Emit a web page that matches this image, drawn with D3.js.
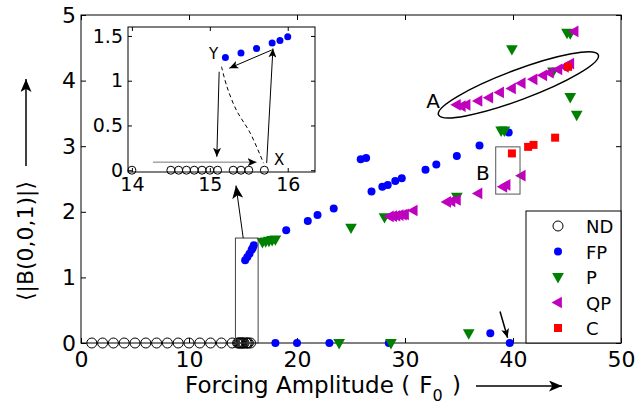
<!DOCTYPE html>
<html>
<head>
<meta charset="utf-8">
<script src="https://cdn.jsdelivr.net/npm/d3@7"></script>
<style>
  body { margin: 0; background: #fff; }
  svg { display: block; font-family: "DejaVu Sans", sans-serif; }
</style>
</head>
<body>
<svg id="chart"></svg>
<script>
// ---- data ----
const xTicks = [0, 10, 20, 30, 40, 50];
const yTicks = [0, 1, 2, 3, 4, 5];
const insetXTicks = [14, 15, 16];
const insetYTicks = [0, 0.5, 1, 1.5];

// no dynamics (all at zero)
const ndX = [1, 2, 3, 4, 5, 6, 7, 8, 9, 10, 11, 12, 13, 14,
             14.5, 14.6, 14.7, 14.8, 14.9, 15.0, 15.1, 15.3, 15.4, 15.5, 15.7];
// fixed point
const fpData = [
  [15.2, 1.26], [15.4, 1.31], [15.6, 1.36], [15.8, 1.42], [15.9, 1.45], [16.0, 1.49],
  [18, 0], [20, 0], [23, 0], [28.5, 0], [37.9, 0.15], [39.7, 0],
  [19, 1.72], [21, 1.86], [21.9, 1.95], [23.4, 2.05], [25.9, 2.80], [26.4, 2.82],
  [26.9, 2.31], [27.9, 2.38], [28.4, 2.41], [29.1, 2.47], [29.7, 2.51], [31.9, 2.64],
  [32.9, 2.72], [34.8, 2.85], [36.9, 3.01], [39.6, 3.21]
];
// periodic
const pData = [
  [16.8, 1.54], [17.1, 1.55], [17.4, 1.56], [17.7, 1.57], [18.0, 1.58],
  [23.9, 0], [25.0, 1.76], [28.1, 1.92], [28.7, 0], [34.8, 2.23], [35.9, 0.15],
  [38.9, 3.24], [39.2, 3.24], [39.9, 4.48], [43.7, 4.14], [45.0, 4.73], [45.3, 4.72],
  [45.3, 3.75], [45.9, 3.48]
];
// quasi periodic
const qpData = [
  [28.6, 1.93], [28.9, 1.935], [29.2, 1.94], [29.5, 1.95], [29.8, 1.955], [30.0, 1.96],
  [30.8, 2.02], [33.9, 2.15], [34.3, 2.16], [34.8, 2.18], [36.8, 2.28],
  [39.1, 2.38], [39.4, 2.41], [40.8, 2.55],
  [34.8, 3.63], [35.25, 3.61], [35.7, 3.63], [36.8, 3.69], [37.8, 3.74], [38.8, 3.82],
  [39.9, 3.88], [40.8, 3.96], [41.9, 4.02], [42.8, 4.08], [43.4, 4.12], [44.2, 4.17],
  [44.8, 4.21], [45.3, 4.26], [45.7, 4.75]
];
// chaotic
const cData = [[39.9, 2.89], [41.4, 2.99], [41.9, 3.02], [43.9, 3.13], [45.1, 4.21]];

// inset (zoom on the jump near F0 = 15)
const insetNdX = [14.0, 14.5, 14.6, 14.7, 14.8, 14.9, 15.0, 15.1, 15.3, 15.4, 15.5, 15.7];
const insetFp = [[15.2, 1.26], [15.4, 1.31], [15.6, 1.36], [15.8, 1.42], [15.9, 1.45], [16.0, 1.49]];
const insetDashed = [[15.15, 1.157], [15.22, 0.933], [15.34, 0.673], [15.52, 0.413], [15.69, 0.078]];

const legendItems = ["ND", "FP", "P", "QP", "C"];

// ---- layout ----
const W = 636, H = 412;
const plotL = 81, plotR = 621, plotT = 15, plotB = 343;
const inL = 128, inR = 315, inT = 27, inB = 172;

const svg = d3.select("#chart").attr("width", W).attr("height", H);

const defs = svg.append("defs");
function arrowHead(id, len, wid, color) {
  defs.append("marker")
    .attr("id", id)
    .attr("markerUnits", "userSpaceOnUse")
    .attr("viewBox", `0 ${-wid / 2} ${len} ${wid}`)
    .attr("refX", len).attr("refY", 0)
    .attr("markerWidth", len).attr("markerHeight", wid)
    .attr("orient", "auto")
    .append("path")
    .attr("d", `M0,${-wid / 2}L${len},0L0,${wid / 2}L${len * 0.25},0Z`)
    .attr("fill", color);
}
arrowHead("bigHead", 13, 11, "#000");
arrowHead("smallHead", 9, 8, "#000");

const x = d3.scaleLinear().domain([0, 50]).range([plotL, plotR]);
const y = d3.scaleLinear().domain([0, 5]).range([plotB, plotT]);
const fmt = d3.format("~g");

// symbols
const triDown = r => `M0,${r}L${-r * 0.9},${-r * 0.6}L${r * 0.9},${-r * 0.6}Z`;
const triLeft = r => `M${-r},0L${r * 0.6},${-r * 0.9}L${r * 0.6},${r * 0.9}Z`;

// ---- main axes ----
const g = svg.append("g");
g.append("rect").attr("x", plotL).attr("y", plotT)
  .attr("width", plotR - plotL).attr("height", plotB - plotT)
  .attr("fill", "none").attr("stroke", "#000");

function styleAxis(sel, fs) {
  sel.select(".domain").remove();
  sel.selectAll("line").attr("stroke", "#000");
  sel.selectAll("text").attr("fill", "#000").style("font-size", fs + "px")
    .style("font-family", "DejaVu Sans");
}

g.append("g").attr("transform", `translate(0,${plotB})`)
  .call(d3.axisBottom(x).tickValues(xTicks).tickFormat(fmt).tickSizeInner(-5).tickSizeOuter(0).tickPadding(8))
  .call(s => styleAxis(s, 22));
g.append("g").attr("transform", `translate(${plotL},0)`)
  .call(d3.axisLeft(y).tickValues(yTicks).tickFormat(fmt).tickSizeInner(-5).tickSizeOuter(0).tickPadding(5))
  .call(s => styleAxis(s, 22));
g.append("g").attr("transform", `translate(0,${plotT})`)
  .call(d3.axisTop(x).tickValues(xTicks).tickSizeInner(-5).tickSizeOuter(0).tickFormat(""))
  .call(s => styleAxis(s, 22));
g.append("g").attr("transform", `translate(${plotR},0)`)
  .call(d3.axisRight(y).tickValues(yTicks).tickSizeInner(-5).tickSizeOuter(0).tickFormat(""))
  .call(s => styleAxis(s, 22));

// ---- main markers ----
g.selectAll(".nd").data(ndX).enter().append("circle")
  .attr("cx", d => x(d)).attr("cy", y(0)).attr("r", 5)
  .attr("fill", "none").attr("stroke", "#000").attr("stroke-width", 1);

g.selectAll(".fp").data(fpData).enter().append("circle")
  .attr("cx", d => x(d[0])).attr("cy", d => y(d[1])).attr("r", 4)
  .attr("fill", "#0000ff");

g.selectAll(".p").data(pData).enter().append("path")
  .attr("transform", d => `translate(${x(d[0])},${y(d[1])})`)
  .attr("d", triDown(6.5)).attr("fill", "#008000");

g.selectAll(".qp").data(qpData).enter().append("path")
  .attr("transform", d => `translate(${x(d[0])},${y(d[1])})`)
  .attr("d", triLeft(6.5)).attr("fill", "#bf00bf");

g.selectAll(".c").data(cData).enter().append("rect")
  .attr("x", d => x(d[0]) - 4).attr("y", d => y(d[1]) - 4)
  .attr("width", 8).attr("height", 8).attr("fill", "#ff0000");

// ---- annotations in main ----
// rectangle around the jump
g.append("rect")
  .attr("x", x(14.3)).attr("y", y(1.6))
  .attr("width", x(16.4) - x(14.3)).attr("height", y(0) - y(1.6))
  .attr("fill", "none").attr("stroke", "#444").attr("stroke-width", 1);
g.append("line")
  .attr("x1", x(15.02)).attr("y1", y(1.6)).attr("x2", x(14.35)).attr("y2", y(2.40))
  .attr("stroke", "#000").attr("stroke-width", 1).attr("marker-end", "url(#bigHead)");

// box B
g.append("rect")
  .attr("x", x(38.4)).attr("y", y(2.99))
  .attr("width", x(40.65) - x(38.4)).attr("height", y(2.27) - y(2.99))
  .attr("fill", "none").attr("stroke", "#555").attr("stroke-width", 1);
g.append("text").attr("x", x(37.2)).attr("y", y(2.6) + 8)
  .attr("text-anchor", "middle").style("font-size", "20px").text("B");

// ellipse A
const e1 = [x(33.1), y(3.48)], e2 = [x(47.9), y(4.39)];
const ecx = (e1[0] + e2[0]) / 2, ecy = (e1[1] + e2[1]) / 2;
const erx = Math.hypot(e2[0] - e1[0], e2[1] - e1[1]) / 2;
const eang = Math.atan2(e2[1] - e1[1], e2[0] - e1[0]) * 180 / Math.PI;
g.append("ellipse")
  .attr("transform", `translate(${ecx},${ecy}) rotate(${eang})`)
  .attr("rx", erx).attr("ry", 15)
  .attr("fill", "none").attr("stroke", "#000").attr("stroke-width", 1.5);
g.append("text").attr("x", x(32.6)).attr("y", y(3.71) + 8)
  .attr("text-anchor", "middle").style("font-size", "20px").text("A");

// arrow near F0 = 40
g.append("line")
  .attr("x1", x(38.8)).attr("y1", y(0.48)).attr("x2", x(39.5)).attr("y2", y(0.08))
  .attr("stroke", "#000").attr("stroke-width", 1.5).attr("marker-end", "url(#smallHead)");

// ---- legend ----
const lg = svg.append("g");
lg.append("rect").attr("x", 526).attr("y", 211).attr("width", plotR - 526).attr("height", plotB - 211)
  .attr("fill", "#fff").attr("stroke", "#000");
legendItems.forEach((name, i) => {
  const row = lg.append("g").attr("transform", `translate(558,${226 + i * 25.5})`);
  if (name === "ND") row.append("circle").attr("r", 5).attr("fill", "none").attr("stroke", "#000");
  if (name === "FP") row.append("circle").attr("r", 4).attr("fill", "#0000ff");
  if (name === "P") row.append("path").attr("d", triDown(6.5)).attr("fill", "#008000");
  if (name === "QP") row.append("path").attr("d", triLeft(6.5)).attr("fill", "#bf00bf");
  if (name === "C") row.append("rect").attr("x", -4).attr("y", -4).attr("width", 8).attr("height", 8).attr("fill", "#ff0000");
  row.append("text").attr("x", 28).attr("y", 7).style("font-size", "18px").text(name);
});

// ---- axis labels ----
const xl = svg.append("text").attr("x", 185).attr("y", 393).style("font-size", "23px");
xl.append("tspan").text("Forcing Amplitude (\u2009\u2009F");
xl.append("tspan").attr("dy", 8).style("font-size", "16px").text("0");
xl.append("tspan").attr("dy", -8).text("\u2009\u2009)");
svg.append("line").attr("x1", 476).attr("y1", 386).attr("x2", 562).attr("y2", 386)
  .attr("stroke", "#000").attr("stroke-width", 1.5).attr("marker-end", "url(#bigHead)");

svg.append("text")
  .attr("transform", "translate(33,241) rotate(-90)")
  .attr("text-anchor", "middle").style("font-size", "22px")
  .text("\u27E8|B(0,0,1)|\u27E9");
svg.append("line").attr("x1", 26).attr("y1", 166).attr("x2", 26).attr("y2", 79)
  .attr("stroke", "#000").attr("stroke-width", 1.5).attr("marker-end", "url(#bigHead)");

// ---- inset ----
const ix = d3.scaleLinear().domain([13.95, 16.35]).range([inL, inR]);
const iy = d3.scaleLinear().domain([-0.02, 1.6]).range([inB, inT]);
const ins = svg.append("g");
ins.append("rect").attr("x", inL).attr("y", inT).attr("width", inR - inL).attr("height", inB - inT)
  .attr("fill", "#fff").attr("stroke", "#000");

ins.append("g").attr("transform", `translate(0,${inB})`)
  .call(d3.axisBottom(ix).tickValues(insetXTicks).tickFormat(fmt).tickSizeInner(-4).tickSizeOuter(0).tickPadding(6))
  .call(s => styleAxis(s, 19));
ins.append("g").attr("transform", `translate(${inL},0)`)
  .call(d3.axisLeft(iy).tickValues(insetYTicks).tickFormat(fmt).tickSizeInner(-4).tickSizeOuter(0).tickPadding(5))
  .call(s => styleAxis(s, 19));
ins.append("g").attr("transform", `translate(0,${inT})`)
  .call(d3.axisTop(ix).tickValues(insetXTicks).tickSizeInner(-4).tickSizeOuter(0).tickFormat(""))
  .call(s => styleAxis(s, 19));
ins.append("g").attr("transform", `translate(${inR},0)`)
  .call(d3.axisRight(iy).tickValues(insetYTicks).tickSizeInner(-4).tickSizeOuter(0).tickFormat(""))
  .call(s => styleAxis(s, 19));

ins.selectAll(".ind").data(insetNdX).enter().append("circle")
  .attr("cx", d => ix(d)).attr("cy", iy(0)).attr("r", 4)
  .attr("fill", "none").attr("stroke", "#000");
ins.selectAll(".ifp").data(insetFp).enter().append("circle")
  .attr("cx", d => ix(d[0])).attr("cy", d => iy(d[1])).attr("r", 3.5)
  .attr("fill", "#0000ff");

function insetArrow(a, b, color) {
  ins.append("line")
    .attr("x1", ix(a[0])).attr("y1", iy(a[1])).attr("x2", ix(b[0])).attr("y2", iy(b[1]))
    .attr("stroke", color).attr("stroke-width", 1).attr("marker-end", "url(#smallHead)");
}
insetArrow([15.795, 1.343], [15.25, 1.14], "#000");
insetArrow([15.73, 0.08], [15.81, 1.36], "#000");
insetArrow([15.12, 1.10], [15.09, 0.15], "#000");
insetArrow([14.27, 0.09], [15.6, 0.09], "#777");

ins.append("path")
  .attr("d", d3.line().x(d => ix(d[0])).y(d => iy(d[1])).curve(d3.curveCatmullRom)(insetDashed))
  .attr("fill", "none").attr("stroke", "#000").attr("stroke-width", 1).attr("stroke-dasharray", "4,3");

ins.append("text").attr("x", ix(15.05)).attr("y", iy(1.30) + 5)
  .attr("text-anchor", "middle").style("font-size", "15px").text("Y");
ins.append("text").attr("x", ix(15.89)).attr("y", iy(0.114) + 5)
  .attr("text-anchor", "middle").style("font-size", "15px").text("X");
</script>
</body>
</html>
